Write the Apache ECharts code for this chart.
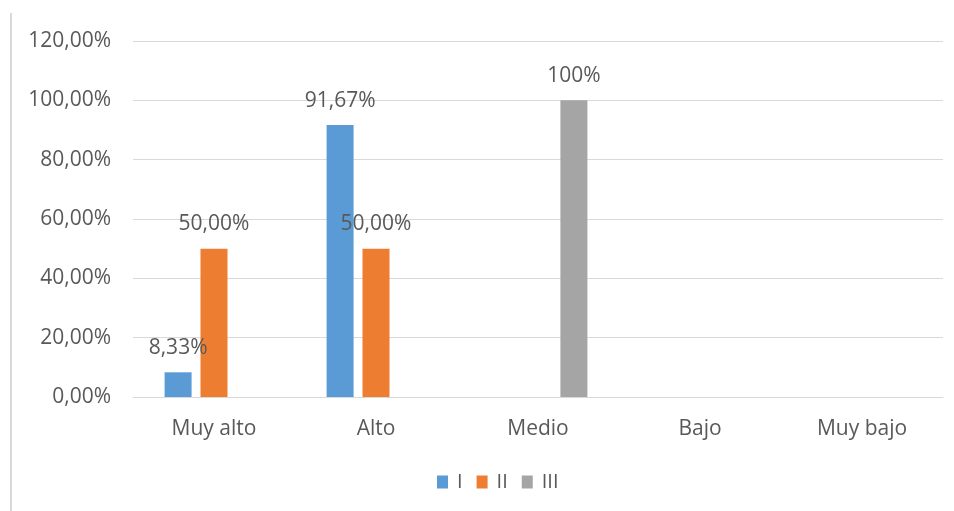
<!DOCTYPE html>
<html>
<head>
<meta charset="utf-8">
<script src="https://cdn.jsdelivr.net/npm/echarts@6/dist/echarts.min.js"></script>
<style>
  html, body { margin: 0; padding: 0; background: #fff; }
  #chart { width: 954px; height: 511px; }
</style>
</head>
<body>
<div id="chart"></div>
<script>
const categories = ['Muy alto', 'Alto', 'Medio', 'Bajo', 'Muy bajo']
const seriesNames = ['I', 'II', 'III']
const valuesI = [8.33, 91.67, 0, 0, 0]
const valuesII = [50, 50, 0, 0, 0]
const valuesIII = [0, 0, 100, 0, 0]
const labelDecimals = [2, 2, 0]
const colors = ['#5B9BD5', '#ED7D31', '#A5A5A5']

const textColor = '#595959'
const fontFamily = '"Open Sans", "Liberation Sans", sans-serif'

const fmt = (v, d) => v.toFixed(d).replace('.', ',') + '%'

const chart = echarts.init(document.getElementById('chart'))

const option = {
  animation: false,
  textStyle: { fontFamily: fontFamily },
  grid: { left: 133, right: 11, top: 41, bottom: 114 },
  legend: {
    bottom: 19,
    left: 437,
    padding: 0,
    itemWidth: 11,
    itemHeight: 13,
    itemGap: 14,
    icon: 'rect',
    textStyle: {
      color: textColor,
      fontSize: 20,
      fontFamily: fontFamily,
      padding: [0, 0, 0, 4]
    },
    data: seriesNames
  },
  graphic: [{
    type: 'line',
    shape: { x1: 11, y1: 13, x2: 11, y2: 511 },
    style: { stroke: '#d9d9d9', lineWidth: 2 }
  }],
  xAxis: {
    type: 'category',
    data: categories,
    axisLine: { lineStyle: { color: '#d9d9d9', width: 1 } },
    axisTick: { show: false },
    axisLabel: { color: textColor, fontSize: 21, margin: 22 }
  },
  yAxis: {
    type: 'value',
    min: 0,
    max: 120,
    interval: 20,
    axisLine: { show: false },
    axisTick: { show: false },
    splitLine: { lineStyle: { color: '#d9d9d9', width: 1 } },
    axisLabel: {
      color: textColor,
      fontSize: 21,
      margin: 22,
      formatter: v => fmt(v, 2)
    }
  },
  series: [valuesI, valuesII, valuesIII].map((data, i) => ({
    name: seriesNames[i],
    type: 'bar',
    data: data,
    barWidth: 27,
    barGap: '33%',
    itemStyle: { color: colors[i] },
    label: {
      show: true,
      position: 'top',
      distance: 14,
      color: textColor,
      fontSize: 21,
      formatter: p => (p.value ? fmt(p.value, labelDecimals[i]) : '')
    }
  }))
}

chart.setOption(option)
</script>
</body>
</html>
